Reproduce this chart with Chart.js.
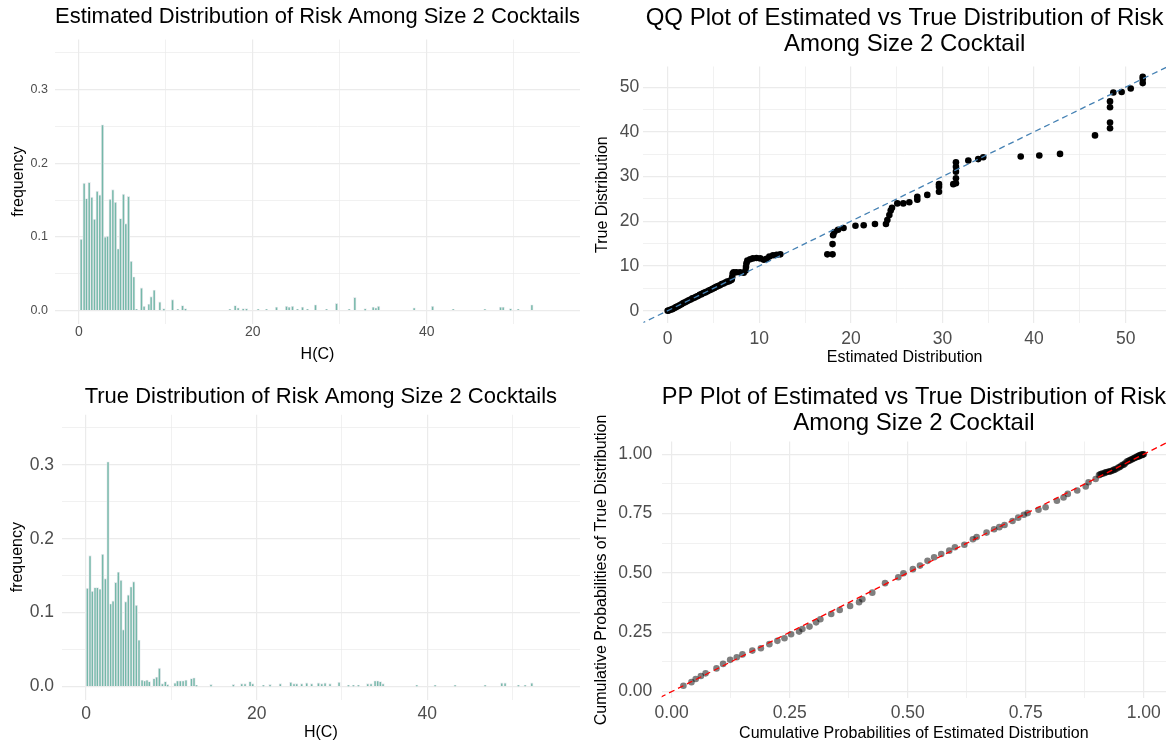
<!DOCTYPE html>
<html>
<head>
<meta charset="utf-8">
<title>Risk distributions</title>
<script src="https://cdn.jsdelivr.net/npm/chart.js@4.4.1/dist/chart.umd.min.js"></script>
<style>
  html, body { margin: 0; padding: 0; background: #fff; overflow: hidden; }
  canvas { position: absolute; }
</style>
</head>
<body>
<canvas id="histEst" width="590" height="372" style="left:0;top:0"></canvas>
<canvas id="histTrue" width="590" height="375" style="left:0;top:372px"></canvas>
<canvas id="qqPlot" width="585" height="372" style="left:590px;top:0"></canvas>
<canvas id="ppPlot" width="585" height="375" style="left:590px;top:372px"></canvas>
<script>
// histogram of estimated H(C) (bin centre, relative frequency)
const estBinX = [0.27,0.61,0.88,1.19,1.49,1.80,2.11,2.41,2.72,3.03,3.30,3.60,3.91,4.21,4.52,4.79,5.13,5.40,5.71,6.02,6.32,6.63,
  7.20,7.50,8.05,8.31,8.66,9.31,9.77,10.77,11.38,11.92,12.26,17.36,17.97,18.31,18.89,19.27,20.61,21.57,22.72,
  23.87,24.17,24.56,25.13,25.71,26.28,27.20,28.47,29.62,31.07,31.72,32.91,33.83,34.14,34.45,38.54,40.66,43.03,46.67,
  48.47,48.77,49.62,50.50,52.07];
const estFreq = [0.097,0.173,0.152,0.174,0.154,0.124,0.162,0.157,0.252,0.100,0.101,0.151,0.164,0.147,0.084,0.125,0.158,0.118,0.155,0.067,0.046,0.002,
  0.031,0.006,0.009,0.019,0.028,0.012,0.003,0.015,0.002,0.007,0.003,0.002,0.007,0.004,0.003,0.003,0.002,0.002,0.005,
  0.006,0.005,0.006,0.002,0.005,0.002,0.008,0.002,0.010,0.002,0.018,0.003,0.005,0.004,0.006,0.004,0.006,0.002,0.002,
  0.005,0.005,0.003,0.002,0.008];

// histogram of true H(C)
const trueBinX = [0.16,0.47,0.74,1.06,1.33,1.64,1.95,2.27,2.58,2.89,3.17,3.48,3.79,4.10,4.38,4.65,4.96,5.28,5.59,5.90,6.21,
  6.57,6.88,7.15,7.42,7.97,8.28,8.60,8.95,9.30,9.57,10.43,10.72,11.05,11.38,11.72,12.36,12.66,12.95,14.65,
  17.27,18.25,18.64,19.23,19.54,20.79,21.57,22.77,24.00,24.38,24.70,25.28,25.87,26.45,27.24,27.63,28.02,28.60,29.66,
  30.76,31.34,31.93,33.02,33.41,33.88,34.19,34.50,34.82,38.77,40.92,43.26,46.78,48.73,49.12,50.68,51.47,52.25];
const trueFreq = [0.133,0.177,0.129,0.134,0.134,0.132,0.179,0.146,0.304,0.112,0.116,0.141,0.155,0.144,0.077,0.115,0.124,0.135,0.142,0.110,0.063,
  0.009,0.008,0.009,0.007,0.011,0.013,0.025,0.004,0.007,0.003,0.005,0.008,0.008,0.008,0.009,0.011,0.012,0.002,0.003,
  0.003,0.004,0.004,0.007,0.004,0.002,0.003,0.004,0.006,0.004,0.004,0.004,0.005,0.004,0.005,0.004,0.005,0.004,0.006,
  0.002,0.002,0.002,0.004,0.004,0.008,0.008,0.007,0.004,0.002,0.002,0.002,0.002,0.005,0.005,0.002,0.002,0.005];

// QQ plot quantiles
const qqEst = [0,0.1,0.3,0.5,0.7,0.9,1.1,1.3,1.5,1.7,1.9,2.1,2.3,2.5,2.7,2.9,3.1,3.3,3.5,3.7,3.9,4.1,4.3,4.5,4.7,4.9,5.1,5.3,5.5,5.7,5.9,6.1,6.3,6.5,6.7,6.9,
  7.0,7.05,7.1,7.2,7.5,7.9,8.3,8.5,8.55,8.6,8.7,9.0,9.3,9.7,10.1,10.5,10.8,11.1,11.5,11.9,12.3,
  17.43,18.0,18.0,18.06,18.2,18.6,19.2,20.5,21.4,22.63,23.83,23.98,24.2,24.35,24.49,25.07,25.72,26.38,27.25,27.25,28.34,
  29.62,29.62,29.62,31.18,31.47,31.47,31.47,31.47,31.47,32.82,33.9,34.45,38.54,40.57,42.83,46.65,48.29,48.29,48.29,48.29,
  48.65,49.56,50.55,51.86,51.86,51.86];
const qqTrue = [0,0.05,0.2,0.35,0.55,0.8,1.0,1.2,1.45,1.7,1.9,2.1,2.35,2.5,2.75,2.9,3.1,3.3,3.55,3.7,3.95,4.1,4.3,4.5,4.7,4.9,5.1,5.35,5.5,5.7,5.95,6.1,6.3,6.5,6.6,6.8,
  7.0,7.6,8.3,8.6,8.6,8.6,8.5,9.0,9.8,10.6,11.2,11.5,11.7,11.8,11.7,11.4,11.6,12.1,12.4,12.5,12.6,
  12.6,12.6,14.9,16.9,17.6,18.1,18.5,19.0,19.1,19.4,19.4,20.3,21.4,22.4,23.0,24.0,24.0,24.25,24.8,25.5,25.9,
  26.6,27.7,28.3,28.3,28.5,29.6,31.1,32.2,33.2,33.6,33.9,34.3,34.5,34.7,35.06,39.2,40.8,42.1,45.5,46.8,
  48.8,48.9,49.7,50.9,51.8,52.3];

// PP plot cumulative probabilities
const ppEst = [0.025,0.042,0.051,0.062,0.072,0.095,0.109,0.124,0.138,0.150,0.171,0.189,0.207,0.224,0.239,0.253,0.270,0.277,0.292,0.306,
  0.315,0.338,0.356,0.378,0.397,0.404,0.425,0.452,0.480,0.491,0.511,0.526,0.542,0.556,0.571,0.588,0.600,0.620,0.638,0.646,
  0.667,0.683,0.694,0.705,0.722,0.734,0.746,0.754,0.777,0.792,0.816,0.830,0.839,0.859,0.877,0.883,0.898,
  0.905,0.909,0.913,0.918,0.922,0.927,0.931,0.936,0.940,0.946,0.950,0.955,0.959,0.964,0.968,0.972,0.975,0.979,0.982,0.985,
  0.988,0.990,0.992,0.994,0.996,0.999,
  0.907,0.911,0.916,0.920,0.925,0.929,0.934,0.938,0.943,0.948,0.952,0.957,0.961,0.966,0.970,0.974,0.977,0.980,0.984,0.987,
  0.989,0.991,0.993,0.995,0.997,0.998,1.000];
const ppTrue = [0.025,0.040,0.053,0.066,0.077,0.098,0.117,0.134,0.145,0.157,0.173,0.183,0.200,0.214,0.225,0.242,0.253,0.264,0.274,0.292,
  0.305,0.327,0.344,0.361,0.377,0.389,0.417,0.457,0.482,0.499,0.516,0.531,0.551,0.566,0.580,0.594,0.608,0.619,0.642,0.651,
  0.670,0.684,0.693,0.702,0.719,0.733,0.745,0.752,0.766,0.777,0.804,0.818,0.833,0.847,0.864,0.882,0.896,
  0.912,0.917,0.919,0.923,0.925,0.927,0.929,0.934,0.937,0.944,0.947,0.955,0.958,0.969,0.972,0.977,0.979,0.983,0.986,0.990,
  0.992,0.994,0.997,0.998,0.999,1.000,
  0.914,0.918,0.920,0.924,0.926,0.928,0.931,0.935,0.940,0.945,0.951,0.956,0.963,0.970,0.974,0.978,0.981,0.984,0.987,0.989,
  0.991,0.993,0.995,0.996,0.998,0.999,1.000];

// reference lines y = x
const qqRef = [-5, 60];
const ppRef = [-0.1, 1.1];

// tick marks (major = labelled, minor = grid only)
const histXMajor = [0, 20, 40], histXMinor = [10, 30, 50];
const histYMajor = [0, 0.1, 0.2, 0.3], histYMinor = [0.05, 0.15, 0.25, 0.35];
const qqMajor = [0, 10, 20, 30, 40, 50], qqMinor = [5, 15, 25, 35, 45];
const ppMajor = [0, 0.25, 0.5, 0.75, 1], ppMinor = [0.125, 0.375, 0.625, 0.875];

const FONT = '"Liberation Sans", Arial, Helvetica, sans-serif';
const GRID = '#EBEBEB';

function isMajor(v, list) {
  return list.some(m => Math.abs(m - v) < 1e-9);
}

// one axis, with fixed size so the panels line up like the facets of the original
function axis(o) {
  return {
    type: 'linear',
    min: o.min,
    max: o.max,
    offset: false,
    border: { display: false },
    grid: {
      offset: false,
      drawTicks: false,
      color: GRID,
      lineWidth: c => isMajor(c.tick.value, o.major) ? 1.2 : 0.7
    },
    afterBuildTicks: s => {
      s.ticks = o.major.concat(o.minor).sort((a, b) => a - b).map(v => ({ value: v }));
    },
    afterFit: s => {
      if (s.isHorizontal()) s.height = o.size; else s.width = o.size;
    },
    ticks: {
      autoSkip: false,
      maxRotation: 0,
      padding: o.tickPad,
      color: '#4D4D4D',
      font: { family: FONT, size: o.tickSize },
      callback: v => isMajor(v, o.major) ? v.toFixed(o.digits) : ''
    },
    title: {
      display: true,
      text: o.title,
      color: '#000',
      font: { family: FONT, size: 16 },
      padding: o.titlePad
    }
  };
}

function titleOpts(text, size, pad) {
  return {
    display: true,
    text: text,
    fullSize: false,
    color: '#000',
    font: { family: FONT, size: size, weight: 'normal', lineHeight: 1.08 },
    padding: pad
  };
}

function histChart(id, xs, ys, title, o) {
  return new Chart(document.getElementById(id), {
    type: 'bar',
    data: {
      datasets: [{
        data: xs.map((x, i) => ({ x: x, y: ys[i] })),
        backgroundColor: 'rgba(105, 179, 162, 0.9)',
        borderColor: '#e6eaed',
        borderWidth: 0.9,
        barThickness: 2.6
      }]
    },
    options: {
      responsive: false,
      animation: false,
      layout: { padding: { right: 10 } },
      plugins: {
        legend: { display: false },
        tooltip: { enabled: false },
        title: titleOpts(title, 22, o.titlePad)
      },
      scales: {
        x: axis({ min: o.xMin, max: o.xMax, major: histXMajor, minor: histXMinor, digits: 0,
          size: o.xSize, tickSize: o.xTick, tickPad: o.xTickPad, title: 'H(C)', titlePad: { top: 0, bottom: o.xTitlePad } }),
        y: axis({ min: -0.0175, max: 0.3675, major: histYMajor, minor: histYMinor, digits: 1,
          size: o.ySize, tickSize: o.yTick, tickPad: o.yTickPad, title: 'frequency', titlePad: { top: o.yTitlePad, bottom: 0 } })
      }
    }
  });
}

histChart('histEst', estBinX, estFreq, 'Estimated Distribution of Risk Among Size 2 Cocktails', {
  xMin: -2.74, xMax: 57.6, titlePad: { top: 4.8, bottom: 11 },
  xSize: 48.4, xTick: 14, xTickPad: 0, xTitlePad: 7.4,
  ySize: 55, yTick: 12.5, yTickPad: 7, yTitlePad: 8.7
});

histChart('histTrue', trueBinX, trueFreq, 'True Distribution of Risk Among Size 2 Cocktails', {
  xMin: -2.85, xMax: 57.9, titlePad: { top: 12.8, bottom: 6.2 },
  xSize: 47.4, xTick: 17.5, xTickPad: 3.9, xTitlePad: 4.4,
  ySize: 61.7, yTick: 17.5, yTickPad: 7.7, yTitlePad: 7.9
});

function compareChart(id, xs, ys, ref, o) {
  return new Chart(document.getElementById(id), {
    type: 'scatter',
    data: {
      datasets: [{
        type: 'line',
        data: ref.map(v => ({ x: v, y: v })),
        borderColor: o.lineColor,
        borderWidth: 1.3,
        borderDash: [6, 4],
        pointRadius: 0,
        fill: false,
        clip: 0
      }, {
        data: xs.map((x, i) => ({ x: x, y: ys[i] })),
        backgroundColor: o.pointColor,
        borderWidth: 0,
        pointRadius: 3.3
      }]
    },
    options: {
      responsive: false,
      animation: false,
      layout: { padding: { right: 9 } },
      plugins: {
        legend: { display: false },
        tooltip: { enabled: false },
        title: titleOpts(o.title, 24, o.titlePad)
      },
      scales: {
        x: axis({ min: o.xMin, max: o.xMax, major: o.major, minor: o.minor, digits: o.digits,
          size: o.xSize, tickSize: 17.5, tickPad: o.xTickPad, title: o.xTitle, titlePad: { top: 0, bottom: o.xTitlePad } }),
        y: axis({ min: o.yMin, max: o.yMax, major: o.major, minor: o.minor, digits: o.digits,
          size: o.ySize, tickSize: 17.5, tickPad: o.yTickPad, title: o.yTitle, titlePad: { top: o.yTitlePad, bottom: 0 } })
      }
    }
  });
}

compareChart('qqPlot', qqEst, qqTrue, qqRef, {
  title: ['QQ Plot of Estimated vs True Distribution of Risk', 'Among Size 2 Cocktail'],
  titlePad: { top: 5, bottom: 9.7 },
  lineColor: '#4682B4', pointColor: '#000',
  xMin: -2.66, xMax: 54.4, yMin: -2.68, yMax: 54.6,
  major: qqMajor, minor: qqMinor, digits: 0,
  xSize: 49.3, xTickPad: 5.8, xTitle: 'Estimated Distribution', xTitlePad: 4.4,
  ySize: 53.3, yTickPad: 4, yTitle: 'True Distribution', yTitlePad: 2.9
});

compareChart('ppPlot', ppEst, ppTrue, ppRef, {
  title: ['PP Plot of Estimated vs True Distribution of Risk', 'Among Size 2 Cocktail'],
  titlePad: { top: 12, bottom: 5.7 },
  lineColor: '#FF0000', pointColor: 'rgba(0, 0, 0, 0.5)',
  xMin: -0.021, xMax: 1.047, yMin: -0.028, yMax: 1.0535,
  major: ppMajor, minor: ppMinor, digits: 2,
  xSize: 48.7, xTickPad: 4.5, xTitle: 'Cumulative Probabilities of Estimated Distribution', xTitlePad: 3.4,
  ySize: 71.7, yTickPad: 9.4, yTitle: 'Cumulative Probabilities of True Distribution', yTitlePad: 1.7
});
</script>
</body>
</html>
